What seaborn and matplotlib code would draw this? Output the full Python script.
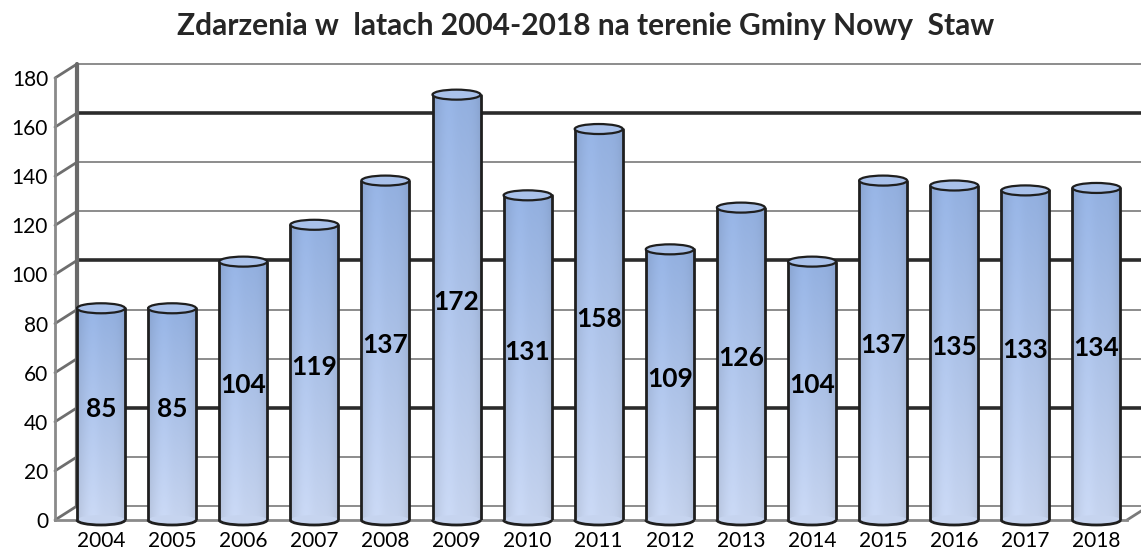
import numpy as np
import pandas as pd
import matplotlib
matplotlib.use("Agg")
import matplotlib.pyplot as plt
from matplotlib.patches import Ellipse, Arc
import seaborn as sns

# data
years = ["2004", "2005", "2006", "2007", "2008", "2009", "2010", "2011",
         "2012", "2013", "2014", "2015", "2016", "2017", "2018"]
counts = [85, 85, 104, 119, 137, 172, 131, 158, 109, 126, 104, 137, 135, 133, 134]
y_ticks = [0, 20, 40, 60, 80, 100, 120, 140, 160, 180]
thick_levels = [40, 100, 160]
title = "Zdarzenia w  latach 2004-2018 na terenie Gminy Nowy  Staw"

df = pd.DataFrame({"rok": years, "zdarzenia": counts})

sns.set_style("white")
plt.rcParams["font.family"] = ["Lato", "DejaVu Sans"]

W, H = 1141, 550
fig = plt.figure(figsize=(W / 100, H / 100), dpi=100)
# axes box in pixels: left 55, right 1127, bottom 30, top 472
ax = fig.add_axes([55 / W, 30 / H, (1127 - 55) / W, 442 / H])

xmin, xmax = -0.647, 14.43
ymax = 180
ax.set_xlim(xmin, xmax)
ax.set_ylim(0, ymax)

# pixel -> data conversion for the fake 3d depth
px_x = (1127 - 55) / (xmax - xmin)
px_y = 442 / ymax
dx = 22 / px_x
dy = 14 / px_y

sns.barplot(data=df, x="rok", y="zdarzenia", color="#9bb5e2", width=0.675,
            ax=ax, zorder=3)
ax.set_xlim(xmin, xmax)

# back wall grid
for lvl in y_ticks:
    thick = lvl in thick_levels
    ax.plot([xmin + dx, xmax + dx + 1], [lvl + dy, lvl + dy],
            color="#2b2b2b" if thick else "#8c8c8c",
            lw=2.6 if thick else 1.4, zorder=1, clip_on=False)
    # little jag from the front axis to the back wall
    ax.plot([xmin, xmin + dx], [lvl, lvl + dy], color="#6e6e6e", lw=2,
            zorder=1, clip_on=False)

# back wall left edge
ax.plot([xmin + dx, xmin + dx], [dy, ymax + dy], color="#6a6a6a", lw=3,
        zorder=1, clip_on=False)
# floor right edge
ax.plot([xmax, xmax + dx], [0, dy], color="#7a7a7a", lw=2, zorder=1,
        clip_on=False)

# gradient fill for the cylinders
top_col = np.array([0x93, 0xb0, 0xe0]) / 255
bot_col = np.array([0xc6, 0xd4, 0xef]) / 255
rows, cols = 200, 60
t = np.linspace(0, 1, rows)[:, None, None]
grad = top_col * (1 - t) + bot_col * t
xs = np.linspace(-1, 1, cols)[None, :, None]
shade = 1 - 0.08 * xs ** 4 + 0.03 * np.exp(-((xs + 0.35) ** 2) / 0.1)
grad = np.clip(grad * shade, 0, 1)

ell_h = 10 / px_y
lift = 3 / px_y  # cylinders sit a bit behind the front plane
edge = "#1f1f1f"
for p, v in zip(ax.patches, counts):
    x0, w, h = p.get_x(), p.get_width(), p.get_height()
    top = h + lift
    xc = x0 + w / 2
    p.set_facecolor("none")
    p.set_edgecolor("none")
    ax.imshow(grad, extent=[x0, x0 + w, 0, top], aspect="auto", zorder=3,
              interpolation="bilinear")
    # bottom rounding
    ax.add_patch(Ellipse((xc, 0), w, ell_h, facecolor=bot_col,
                         edgecolor="none", zorder=3.5, clip_on=False))
    ax.add_patch(Arc((xc, 0), w, ell_h, theta1=180, theta2=360,
                     color=edge, lw=2, zorder=4, clip_on=False))
    # sides
    ax.plot([x0, x0], [0, top], color=edge, lw=2, zorder=4)
    ax.plot([x0 + w, x0 + w], [0, top], color=edge, lw=2, zorder=4)
    # top cap
    ax.add_patch(Ellipse((xc, top), w, ell_h, facecolor="#a9c1ea",
                         edgecolor=edge, lw=1.6, zorder=5, clip_on=False))
    ax.annotate(str(v), (xc, v / 2), xytext=(0, 7),
                textcoords="offset pixels", ha="center", va="center",
                fontsize=19, fontweight="bold", color="black", zorder=6)

ax.set_xlim(xmin, xmax)
ax.set_ylim(0, ymax)
ax.set_yticks(y_ticks)
ax.set_xlabel("")
ax.set_ylabel("")
ax.tick_params(axis="both", length=0, labelsize=15, labelcolor="black")
ax.tick_params(axis="y", pad=5)
ax.tick_params(axis="x", pad=8)

for side in ["top", "right"]:
    ax.spines[side].set_visible(False)
ax.spines["left"].set_color("#8a8a8a")
ax.spines["left"].set_linewidth(2)
ax.spines["bottom"].set_color("#8a8a8a")
ax.spines["bottom"].set_linewidth(2)
ax.patch.set_alpha(0)

fig.text(0.5136, 1 - 26 / H, title, ha="center", va="center",
         fontsize=21.5, fontweight="bold")

fig.savefig("out.png", dpi=100)
